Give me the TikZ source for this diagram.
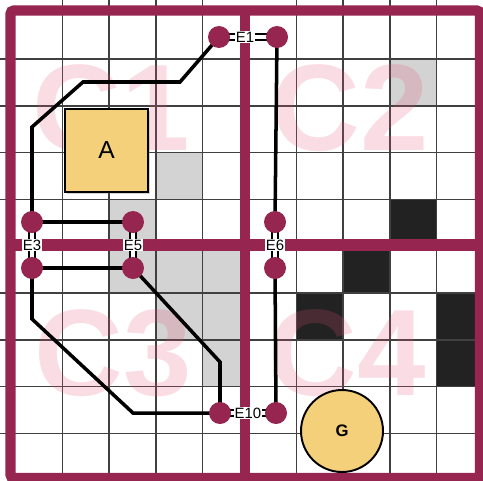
\documentclass[tikz,border=0pt]{standalone}
\usepackage{fontspec}
\setmainfont{Liberation Sans}
\usetikzlibrary{shadows}

\definecolor{wallred}{RGB}{150,37,80}
\definecolor{roomtint}{RGB}{230,80,120}
\definecolor{boxgold}{RGB}{245,208,122}
\definecolor{cellgray}{RGB}{211,211,211}
\definecolor{cellblack}{RGB}{34,34,34}

\begin{document}
\begin{tikzpicture}[
  x=0.02cm, y=-0.02cm, font=\fontsize{8.5}{10}\selectfont,
  wall/.style    ={draw=wallred, line width=5.9pt},
  gridline/.style={draw=black!75, line width=0.7pt},
  room/.style    ={text=roomtint, text opacity=0.2, inner sep=0pt,
                   font=\fontsize{70}{70}\selectfont\bfseries},
  agent/.style   ={rectangle, draw, line width=1.1pt, fill=boxgold, minimum size=1.66cm,
                   inner sep=0pt, font=\fontsize{14}{14}\selectfont,
                   drop shadow={shadow xshift=1.2pt, shadow yshift=-1.2pt, opacity=0.35}},
  goal/.style    ={circle, draw, line width=1.1pt, fill=boxgold, minimum size=1.64cm,
                   inner sep=0pt, font=\fontsize{9.5}{10}\selectfont\bfseries},
  door/.style    ={draw=black, line width=0.6pt, double=white, double distance=2.8pt},
  route/.style   ={draw=black, line width=2pt},
  dot/.style     ={fill=wallred},
  tag/.style     ={fill=white, inner sep=0.6pt},
]
  \useasboundingbox (0,0) rectangle (483,480);
  \clip (0,0) rectangle (483,480);

  % occupied cells
  \foreach \c/\r in {3/3,2/4,2/5,3/5,4/5,3/6,4/6,4/7,8/1}
    \fill[cellgray] ({15.5+46.8*\c},{12.3+46.8*\r}) rectangle +(46.8,46.8);
  \foreach \c/\r in {8/4,7/5,6/6,9/6,9/7}
    \fill[cellblack] ({15.5+46.8*\c},{12.3+46.8*\r}) rectangle +(46.8,46.8);

  \foreach \k in {1,2,3,4,6,7,8,9} {
    \draw[gridline] ({15.5+46.8*\k},0) -- ++(0,480);
    \draw[gridline] (0,{12.3+46.8*\k}) -- ++(483,0);
  }

  \node[room] (c1) at (111,108) {C1};
  \node[room] (c2) at (350,108) {C2};
  \node[room] (c3) at (113,353) {C3};
  \node[room] (c4) at (347,353) {C4};

  % walls
  \draw[wall, rounded corners=2] (10.5,10.5) rectangle (480,478);
  \draw[wall] (245,10.5) -- (245,478);
  \draw[wall, line width=7pt] (10.5,245) -- (480,245);

  \node[agent] (a) at (106.5,150.5) {A};
  \node[goal]  (g) at (342,431) {G};

  \coordinate (e1a) at (219,37);   \coordinate (e1b) at (277,37);
  \coordinate (e3a) at (32,222);   \coordinate (e3b) at (32,268);
  \coordinate (e5a) at (133,222);  \coordinate (e5b) at (133,268);
  \coordinate (e6a) at (275,222);  \coordinate (e6b) at (275,268);
  \coordinate (e10a) at (220,413); \coordinate (e10b) at (276,413);

  \draw[door] (e1a) -- (e1b);
  \draw[door] (e3a) -- (e3b);
  \draw[door] (e5a) -- (e5b);
  \draw[door] (e6a) -- (e6b);
  \draw[door] (e10a) -- (e10b);

  \draw[route] (e1a) -- (180,82) -- (83,82) -- (32,127) -- (e3a);
  \draw[route] (e3a) -- (e5a);
  \draw[route] (e3b) -- (e5b);
  \draw[route] (e5b) -- (220,362) -- (e10a);
  \draw[route] (e3b) -- (32,319) -- (133,413) -- (e10a);
  \draw[route] (e1b) -- (e6a);
  \draw[route] (e6b) -- (e10b);

  \foreach \p in {e1a,e1b,e3a,e3b,e5a,e5b,e6a,e6b,e10a,e10b}
    \fill[dot] (\p) circle (11);

  \node[tag] (t1)  at (245,37)  {E1};
  \node[tag] (t3)  at (32,245)  {E3};
  \node[tag] (t5)  at (133,245) {E5};
  \node[tag] (t6)  at (275,245) {E6};
  \node[tag] (t10) at (248,413) {E10};
\end{tikzpicture}
\end{document}
